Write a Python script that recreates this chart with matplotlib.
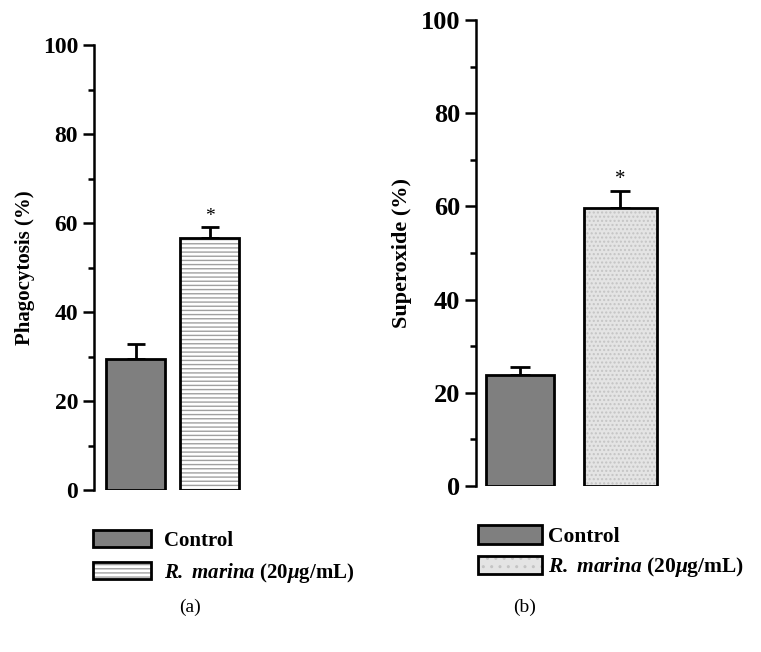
import matplotlib
matplotlib.use("Agg")
from matplotlib import pyplot as plt
from matplotlib.patches import Patch
from matplotlib.legend_handler import HandlerTuple
from matplotlib.ticker import MultipleLocator

groups = ["Control", "R. marina"]
phago_mean = [29.4, 56.6]
phago_err = [3.3, 2.4]
super_mean = [23.8, 59.6]
super_err = [1.8, 3.6]
yticks = [0, 20, 40, 60, 80, 100]

plt.rcParams['font.family'] = ['Liberation Serif', 'DejaVu Serif']
plt.rcParams['font.weight'] = 'bold'
plt.rcParams['mathtext.fontset'] = 'custom'
plt.rcParams['mathtext.bfit'] = 'Liberation Serif:italic:bold'
plt.rcParams['mathtext.it'] = 'Liberation Serif:italic:bold'
plt.rcParams['hatch.linewidth'] = 1.0

legend_labels = ["Control", r"$\mathbfit{R.}$ $\mathbfit{marina}$ (20$\mathit{\mu}$g/mL)"]


def draw_panel(ax, means, errs, widths, hatch, hcolor, hface, tick_fs, label_fs, ylabel, cap):
    pos = [1, 2]
    ax.bar(pos[0], means[0], width=widths[0], color='#7f7f7f', edgecolor='black', linewidth=2, zorder=3)
    ax.bar(pos[1], means[1], width=widths[1], color=hface, edgecolor=hcolor, hatch=hatch, linewidth=0, zorder=3)
    ax.bar(pos[1], means[1], width=widths[1], fill=False, edgecolor='black', linewidth=2, zorder=4)
    ax.errorbar(pos, means, yerr=[[0, 0], errs], fmt='none', ecolor='black',
                elinewidth=2, capsize=cap, capthick=2, zorder=2)
    ax.text(pos[1], means[1] + errs[1] + 0.6, "*", ha='center', va='bottom',
            fontsize=label_fs - 1, fontweight='normal')

    ax.set_ylim(0, 100)
    ax.set_yticks(yticks)
    ax.yaxis.set_minor_locator(MultipleLocator(10))
    ax.tick_params(axis='y', which='major', length=8, width=1.8, labelsize=tick_fs, direction='out')
    ax.tick_params(axis='y', which='minor', length=4, width=1.8, direction='out')
    ax.set_xticks([])
    for s in ['top', 'right', 'bottom']:
        ax.spines[s].set_visible(False)
    ax.spines['left'].set_linewidth(1.8)
    ax.set_ylabel(ylabel, fontsize=label_fs, fontweight='bold')
    for lab in ax.get_yticklabels():
        lab.set_fontweight('bold')


fig = plt.figure(figsize=(7.61, 6.52), dpi=100)

# panel (a)
ax1 = fig.add_axes([94 / 761, 162 / 652, 156 / 761, 445 / 652])
draw_panel(ax1, phago_mean, phago_err, [0.8, 0.8], '----', '#a0a0a0', 'white',
           17, 15, "Phagocytosis (%)", 6.5)
ax1.set_xlim(1 - 41.5 / 74, 1 + 156 / 74 - 41.5 / 74)
ax1.yaxis.set_label_coords(-59 / 156, 0.5)

# panel (b)
ax2 = fig.add_axes([476 / 761, 166 / 652, 190 / 761, 466 / 652])
draw_panel(ax2, super_mean, super_err, [0.68, 0.73], '....', '#c4c4c4', '#e4e4e4',
           19, 16, "Superoxide (%)", 7)
ax2.set_xlim(1 - 44 / 100, 1 - 44 / 100 + 1.9)
ax2.yaxis.set_label_coords(-64 / 190, 0.5)


def make_legend(hatch, hcolor, hface, x, y, fs, hl, hh, pad, spacing):
    h1 = Patch(facecolor='#7f7f7f', edgecolor='black', linewidth=2)
    h2 = (Patch(facecolor=hface, edgecolor=hcolor, hatch=hatch, linewidth=0),
          Patch(fill=False, edgecolor='black', linewidth=2))
    leg = fig.legend([h1, h2], legend_labels, loc='upper left', bbox_to_anchor=(x, y),
                     frameon=False, handlelength=hl, handleheight=hh,
                     handletextpad=pad, labelspacing=spacing, borderaxespad=0, borderpad=0,
                     handler_map={tuple: HandlerTuple(ndivide=1, pad=0)},
                     prop={'weight': 'bold', 'size': fs})
    return leg


make_legend('----', '#a0a0a0', 'white', 93 / 761, 1 - 530 / 652, 15, 2.8, 0.85, 0.6, 0.5)
make_legend('..', '#c4c4c4', '#e4e4e4', 478 / 761, 1 - 525 / 652, 15.5, 2.95, 0.95, 0.3, 0.4)

fig.text(190 / 761, 1 - 607 / 652, "(a)", ha='center', va='center', fontsize=14, fontweight='normal')
fig.text(525 / 761, 1 - 607 / 652, "(b)", ha='center', va='center', fontsize=14, fontweight='normal')

fig.savefig("out.png", dpi=100)
